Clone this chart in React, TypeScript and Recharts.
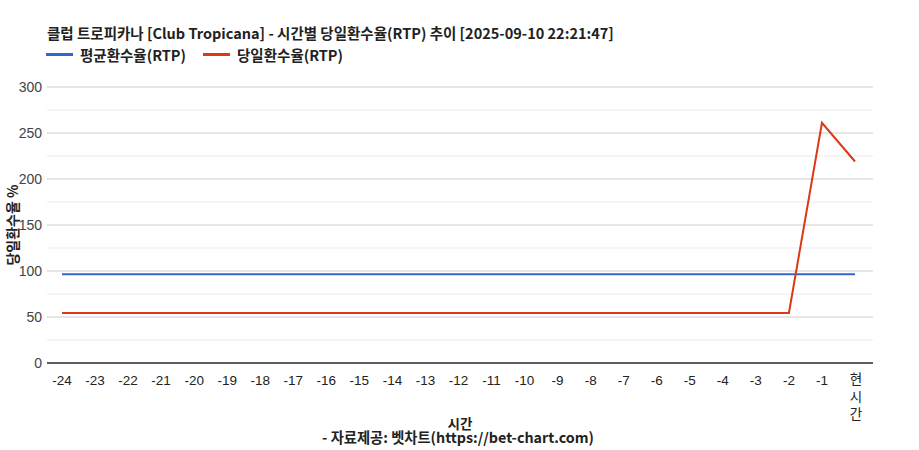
import React from 'react';
import { LineChart, Line, XAxis, YAxis, CartesianGrid, ReferenceLine } from 'recharts';

const TITLE = '클럽 트로피카나 [Club Tropicana] - 시간별 당일환수율(RTP) 추이 [2025-09-10 22:21:47]';
const SOURCE = '- 자료제공: 벳차트(https://bet-chart.com)';
const X_LABEL = '시간';
const Y_LABEL = '당일환수율 %';

const categories = [
  '-24', '-23', '-22', '-21', '-20', '-19', '-18', '-17', '-16', '-15', '-14', '-13',
  '-12', '-11', '-10', '-9', '-8', '-7', '-6', '-5', '-4', '-3', '-2', '-1', '현시간',
];
const avgRtp = [
  96.4, 96.4, 96.4, 96.4, 96.4, 96.4, 96.4, 96.4, 96.4, 96.4, 96.4, 96.4,
  96.4, 96.4, 96.4, 96.4, 96.4, 96.4, 96.4, 96.4, 96.4, 96.4, 96.4, 96.4, 96.4,
];
const dayRtp = [
  54.3, 54.3, 54.3, 54.3, 54.3, 54.3, 54.3, 54.3, 54.3, 54.3, 54.3, 54.3,
  54.3, 54.3, 54.3, 54.3, 54.3, 54.3, 54.3, 54.3, 54.3, 54.3, 54.3, 261, 219,
];
const yTicks = [0, 50, 100, 150, 200, 250, 300];
const minorTicks = [25, 75, 125, 175, 225, 275];

const SERIES = [
  { key: 'avg', name: '평균환수율(RTP)', color: '#3366cc' },
  { key: 'day', name: '당일환수율(RTP)', color: '#dc3912' },
];

const data = categories.map((c, i) => ({ cat: c, avg: avgRtp[i], day: dayRtp[i] }));

const KFONT = '"Noto Sans CJK KR", "Noto Sans", sans-serif';
const TFONT = '"Liberation Sans", Arial, sans-serif';

const XTick = (props: any) => {
  const { x, y, payload } = props;
  const v: string = payload.value;
  if (v === '현시간') {
    return (
      <text x={x} y={y} textAnchor="middle" fontFamily={KFONT} fontSize={13.5} fill="#222">
        {v.split('').map((ch, i) => (
          <tspan key={i} x={x + 1} dy={i === 0 ? 13 : 17.5}>{ch}</tspan>
        ))}
      </text>
    );
  }
  return (
    <text x={x} y={y + 14} textAnchor="middle" fontFamily={TFONT} fontSize={13.5} fill="#222">
      {v}
    </text>
  );
};

export default function App() {
  return (
    <div style={{ position: 'absolute', left: 0, top: 0, width: 919, height: 450, background: '#fff' }}>
      <div style={{ position: 'absolute', left: 47, top: 22, lineHeight: '21px', fontFamily: KFONT, fontWeight: 700, fontSize: 14.5, color: '#222', whiteSpace: 'nowrap' }}>
        {TITLE}
      </div>
      <div style={{ position: 'absolute', left: 46, top: 43.5, lineHeight: '21px', display: 'flex', alignItems: 'center', fontFamily: KFONT, fontWeight: 700, fontSize: 14.5, color: '#222', whiteSpace: 'nowrap' }}>
        {SERIES.map((s, i) => (
          <div key={s.key} style={{ display: 'flex', alignItems: 'center', marginRight: i === 0 ? 17 : 0 }}>
            <div style={{ width: 27, height: 3, background: s.color, marginRight: 7 }} />
            <span>{s.name}</span>
          </div>
        ))}
      </div>
      <LineChart width={919} height={450} data={data} margin={{ top: 87, right: 46, bottom: 0, left: 0 }}>
        <CartesianGrid horizontal vertical={false} stroke="#cccccc" />
        {minorTicks.map((v) => (
          <ReferenceLine key={v} y={v} stroke="#ebebeb" strokeWidth={1} />
        ))}
        <XAxis
          dataKey="cat"
          interval={0}
          padding={{ left: 15, right: 18 }}
          height={87}
          axisLine={{ stroke: '#333', strokeWidth: 1 }}
          tickLine={false}
          tick={<XTick />}
          label={(p: any) => {
            const vb = p.viewBox;
            const cx = vb.x + vb.width / 2;
            return (
              <g>
                <text x={cx} y={428.5} textAnchor="middle" fontFamily={KFONT} fontWeight={700} fontSize={13.5} fill="#222">{X_LABEL}</text>
                <text x={cx - 2} y={443} textAnchor="middle" fontFamily={KFONT} fontWeight={700} fontSize={14.3} fill="#222">{SOURCE}</text>
              </g>
            );
          }}
        />
        <YAxis
          domain={[0, 300]}
          ticks={yTicks}
          width={47}
          axisLine={false}
          tickLine={false}
          tickSize={0}
          tickMargin={5}
          tick={{ fontFamily: TFONT, fontSize: 14, fill: '#444' }}
          label={(p: any) => {
            const vb = p.viewBox;
            const cy = vb.y + vb.height / 2;
            return (
              <text x={18} y={cy} transform={`rotate(-90, 18, ${cy})`} textAnchor="middle" fontFamily={KFONT} fontWeight={700} fontSize={14} fill="#222">{Y_LABEL}</text>
            );
          }}
        />
        <ReferenceLine y={0} stroke="#333" strokeWidth={1} />
        {SERIES.map((s) => (
          <Line
            key={s.key}
            type="linear"
            dataKey={s.key}
            name={s.name}
            stroke={s.color}
            strokeWidth={2}
            dot={false}
            activeDot={false}
            isAnimationActive={false}
          />
        ))}
      </LineChart>
    </div>
  );
}
